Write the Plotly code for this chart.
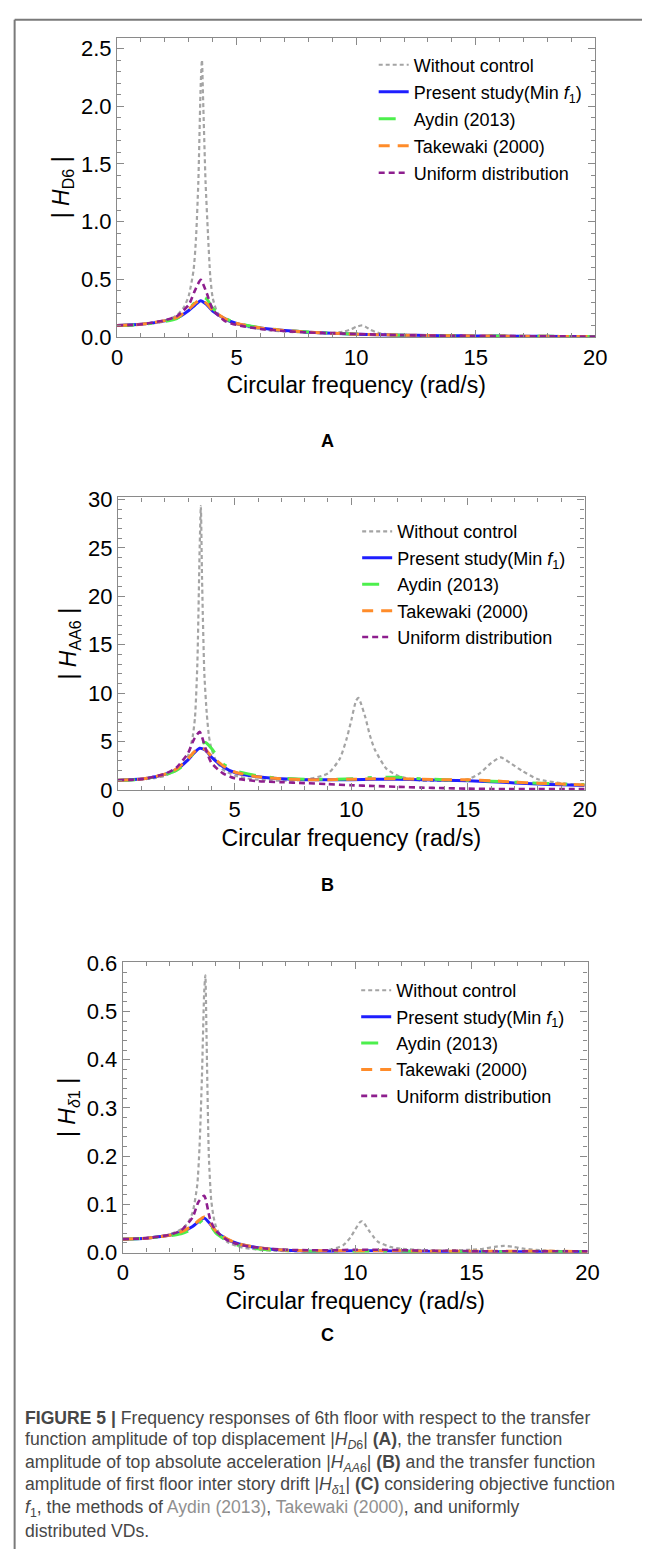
import plotly.graph_objects as go

# frequency grids (rad/s)
freq = [0, 1, 2, 2.5, 3, 3.25, 3.5, 3.75, 4, 4.5, 5, 6, 7, 8, 9, 10, 11, 12, 13, 14, 15, 16, 17, 18, 19, 20]
freq_fine = [0, 0.5, 1, 1.5, 2, 2.5, 2.8, 3.0, 3.2, 3.3, 3.4, 3.5, 3.55, 3.6, 3.7, 3.8, 3.9, 4.0, 4.2, 4.5,
             5, 5.5, 6, 6.5, 7, 8, 9, 9.5, 9.8, 10, 10.2, 10.3, 10.4, 10.6, 10.8, 11, 11.5, 12, 13, 14,
             15, 15.5, 16, 16.4, 16.8, 17.3, 18, 19, 20]

# (A) |H_D6|
hd6_none = [0.100, 0.102, 0.108, 0.118, 0.138, 0.19, 0.26, 0.36, 0.58, 0.85, 1.35, 2.20, 2.40, 2.05, 1.35, 0.90, 0.52, 0.34, 0.21, 0.15,
            0.11, 0.085, 0.068, 0.056, 0.048, 0.036, 0.035, 0.048, 0.068, 0.088, 0.100, 0.098, 0.088, 0.062, 0.044, 0.032, 0.020, 0.014, 0.010, 0.008,
            0.007, 0.008, 0.009, 0.010, 0.009, 0.007, 0.005, 0.004, 0.003]
hd6_present = [0.100, 0.110, 0.140, 0.165, 0.23, 0.275, 0.315, 0.28, 0.225, 0.16, 0.117, 0.078, 0.057, 0.042, 0.032, 0.025, 0.020, 0.016, 0.013, 0.011, 0.009, 0.008, 0.007, 0.006, 0.005, 0.004]
hd6_aydin = [0.100, 0.108, 0.135, 0.160, 0.24, 0.30, 0.355, 0.33, 0.25, 0.165, 0.12, 0.08, 0.058, 0.043, 0.033, 0.026, 0.020, 0.016, 0.013, 0.011, 0.009, 0.008, 0.007, 0.006, 0.005, 0.004]
hd6_takewaki = [0.100, 0.110, 0.142, 0.170, 0.24, 0.29, 0.325, 0.29, 0.23, 0.16, 0.117, 0.078, 0.057, 0.042, 0.032, 0.025, 0.020, 0.016, 0.013, 0.011, 0.009, 0.008, 0.007, 0.006, 0.005, 0.004]
hd6_uniform = [0.100, 0.110, 0.145, 0.180, 0.28, 0.40, 0.495, 0.38, 0.24, 0.14, 0.105, 0.07, 0.052, 0.040, 0.032, 0.026, 0.020, 0.016, 0.013, 0.011, 0.009, 0.008, 0.007, 0.006, 0.005, 0.004]

# (B) |H_AA6|
haa6_none = [1.0, 1.02, 1.08, 1.2, 1.45, 2.0, 2.7, 3.5, 5.5, 7.5, 13, 25, 29.3, 22, 12, 8.0, 5.5, 4.3, 3.0, 2.1,
             1.5, 1.2, 1.05, 0.98, 0.96, 1.05, 1.7, 3.2, 5.3, 7.2, 9.2, 9.5, 9.0, 7.5, 5.6, 4.2, 2.2, 1.45, 0.95, 0.95,
             1.1, 1.7, 2.8, 3.35, 2.8, 2.0, 1.1, 0.7, 0.5]
haa6_present = [1.0, 1.12, 1.6, 2.1, 3.1, 3.8, 4.3, 4.1, 3.4, 2.4, 1.8, 1.35, 1.15, 1.05, 1.05, 1.05, 1.1, 1.1, 1.05, 1.0, 0.95, 0.85, 0.72, 0.6, 0.52, 0.45]
haa6_aydin = [1.0, 1.1, 1.55, 2.0, 3.0, 3.9, 4.7, 4.9, 4.3, 2.7, 2.0, 1.45, 1.2, 1.1, 1.1, 1.15, 1.3, 1.3, 1.15, 1.05, 1.0, 0.9, 0.8, 0.7, 0.6, 0.55]
haa6_takewaki = [1.0, 1.12, 1.62, 2.15, 3.2, 3.9, 4.35, 4.15, 3.5, 2.5, 1.85, 1.35, 1.15, 1.05, 1.05, 1.1, 1.15, 1.15, 1.1, 1.05, 1.05, 0.95, 0.8, 0.7, 0.6, 0.5]
haa6_uniform = [1.0, 1.12, 1.65, 2.3, 3.8, 5.2, 6.0, 4.3, 2.8, 1.7, 1.2, 0.9, 0.8, 0.7, 0.6, 0.48, 0.4, 0.32, 0.24, 0.18, 0.13, 0.1, 0.09, 0.08, 0.08, 0.08]

# (C) |H_delta1|
hd1_none = [0.028, 0.0285, 0.030, 0.033, 0.038, 0.048, 0.062, 0.083, 0.14, 0.22, 0.36, 0.54, 0.575, 0.45, 0.20, 0.11, 0.075, 0.055, 0.035, 0.022,
            0.012, 0.008, 0.005, 0.004, 0.003, 0.003, 0.007, 0.016, 0.032, 0.048, 0.063, 0.065, 0.060, 0.045, 0.032, 0.022, 0.012, 0.008, 0.005, 0.005,
            0.006, 0.008, 0.012, 0.014, 0.012, 0.008, 0.005, 0.003, 0.002]
hd1_present = [0.028, 0.030, 0.036, 0.042, 0.054, 0.064, 0.072, 0.060, 0.044, 0.027, 0.018, 0.009, 0.005, 0.003, 0.003, 0.004, 0.004, 0.003, 0.003, 0.002, 0.002, 0.002, 0.002, 0.002, 0.002, 0.002]
hd1_aydin = [0.028, 0.030, 0.035, 0.039, 0.049, 0.060, 0.070, 0.058, 0.041, 0.024, 0.015, 0.007, 0.004, 0.003, 0.003, 0.003, 0.003, 0.003, 0.002, 0.002, 0.002, 0.002, 0.002, 0.002, 0.002, 0.002]
hd1_takewaki = [0.028, 0.030, 0.036, 0.043, 0.056, 0.066, 0.074, 0.061, 0.045, 0.028, 0.018, 0.009, 0.005, 0.004, 0.004, 0.004, 0.004, 0.004, 0.003, 0.003, 0.003, 0.003, 0.003, 0.003, 0.003, 0.002]
hd1_uniform = [0.028, 0.030, 0.037, 0.046, 0.073, 0.105, 0.118, 0.070, 0.045, 0.026, 0.017, 0.009, 0.006, 0.005, 0.005, 0.006, 0.006, 0.005, 0.004, 0.004, 0.003, 0.003, 0.003, 0.003, 0.003, 0.003]

names = ["Without control", "Present study(Min <i>f</i><sub>1</sub>)", "Aydin (2013)", "Takewaki (2000)", "Uniform distribution"]
colors = ["#a4a4a4", "#1e1eff", "#4cef4c", "#ff8c2a", "#8e1e8e"]
dashes = ["4px,3px", "solid", "17px,14px,4px,14px", "11px,8px", "6px,4px"]
widths = [2.2, 3, 3, 3, 2.6]

# the page body adds an 8px margin, so the figure is offset by 8px on screen
OFF = 8
W, H = 654 - OFF, 1562 - OFF
FONT = "Liberation Sans, Arial, sans-serif"


def px_x(v):
    return (v - OFF) / W


def px_y(v):
    return 1 - (v - OFF) / H


panels = [
    dict(ys=[hd6_none, hd6_present, hd6_aydin, hd6_takewaki, hd6_uniform],
         xd=[114, 606], yd=[27, 331], yr=[0, 2.594], dtick=0.5, minor=0.1, fmt=".1f",
         title="| <i>H</i><sub>D6</sub> |", leg=(378, 36, 0.6), letter=("A", 424)),
    dict(ys=[haa6_none, haa6_present, haa6_aydin, haa6_takewaki, haa6_uniform],
         xd=[115, 595], yd=[494, 791], yr=[0, 30.2], dtick=5, minor=1, fmt="d",
         title="| <i>H</i><sub>AA6</sub> |", leg=(361, 510, 0), letter=("B", 888)),
    dict(ys=[hd1_none, hd1_present, hd1_aydin, hd1_takewaki, hd1_uniform],
         xd=[120, 598], yd=[966, 1261], yr=[0, 0.602], dtick=0.1, minor=0.02, fmt=".1f",
         title="| <i>H</i><sub><i>δ</i>1</sub> |", leg=(360, 976, 0), letter=("C", 1357)),
]

fig = go.Figure()
frame = "#8a8a8a"

for i, p in enumerate(panels):
    n = "" if i == 0 else str(i + 1)
    legname = "legend" + n
    for k in range(5):
        fig.add_trace(go.Scatter(
            x=freq_fine if k == 0 else freq,
            y=p["ys"][k],
            mode="lines",
            name=names[k],
            line=dict(color=colors[k], dash=dashes[k], width=widths[k], shape="spline", smoothing=0.6),
            xaxis="x" + n, yaxis="y" + n,
            legend=legname, legendgroup=f"g{i}{k}",
        ))
    axis_common = dict(showline=True, linecolor=frame, linewidth=1.3, mirror="allticks",
                       ticks="inside", ticklen=7, tickcolor=frame, showgrid=False, zeroline=False,
                       tickfont=dict(size=22, color="black", family=FONT))
    fig.layout["xaxis" + n] = dict(
        domain=[px_x(p["xd"][0]), px_x(p["xd"][1])], anchor="y" + n,
        range=[0, 20], dtick=5, tick0=0,
        minor=dict(dtick=1, ticks="inside", ticklen=4, tickcolor=frame),
        title=dict(text="Circular frequency (rad/s)", font=dict(size=23, color="black", family=FONT), standoff=8),
        **axis_common)
    fig.layout["yaxis" + n] = dict(
        domain=[px_y(p["yd"][1]), px_y(p["yd"][0])], anchor="x" + n,
        range=p["yr"], dtick=p["dtick"], tick0=0, tickformat=p["fmt"],
        minor=dict(dtick=p["minor"], ticks="inside", ticklen=4, tickcolor=frame),
        title=dict(text=p["title"], font=dict(size=23, color="black", family=FONT), standoff=4),
        **axis_common)
    fig.layout[legname] = dict(
        x=px_x(p["leg"][0]), y=px_y(p["leg"][1]), xanchor="left", yanchor="top",
        bgcolor="rgba(0,0,0,0)", tracegroupgap=p["leg"][2],
        font=dict(size=18, color="black", family=FONT))
    fig.add_annotation(text="<b>" + p["letter"][0] + "</b>", x=px_x(330), y=px_y(p["letter"][1]),
                       xref="paper", yref="paper", showarrow=False,
                       font=dict(size=18, color="black", family=FONT))

caption = [
    "<b>FIGURE 5 |</b> Frequency responses of 6th floor with respect to the transfer",
    "function amplitude of top displacement |<i>H</i><sub><i>D</i>6</sub>| <b>(A)</b>, the transfer function",
    "amplitude of top absolute acceleration |<i>H</i><sub><i>AA</i>6</sub>| <b>(B)</b> and the transfer function",
    "amplitude of first floor inter story drift |<i>H</i><sub><i>δ</i>1</sub>| <b>(C)</b> considering objective function",
    "<i>f</i><sub>1</sub>, the methods of <span style='color:#909090'>Aydin (2013)</span>, "
    "<span style='color:#909090'>Takewaki (2000)</span>, and uniformly",
    "distributed VDs.",
]
cap_y = [1429, 1452, 1475, 1498, 1521, 1544]
for txt, yy in zip(caption, cap_y):
    fig.add_annotation(text=txt, x=px_x(17), y=px_y(yy), xref="paper", yref="paper",
                       xanchor="left", yanchor="middle", showarrow=False, align="left",
                       font=dict(size=17.6, color="#474747", family=FONT))

# page rules at the left and top edge
fig.add_shape(type="line", xref="paper", yref="paper", x0=0.001, x1=0.001, y0=0, y1=0.9995,
              line=dict(color="#7a7a7a", width=2))
fig.add_shape(type="line", xref="paper", yref="paper", x0=0.001, x1=1, y0=0.9995, y1=0.9995,
              line=dict(color="#7a7a7a", width=2))

fig.update_layout(
    width=W, height=H,
    margin=dict(l=0, r=0, t=0, b=0),
    paper_bgcolor="white", plot_bgcolor="white",
    font=dict(family=FONT, color="black"),
    showlegend=True,
)

fig.write_html("out.html")
